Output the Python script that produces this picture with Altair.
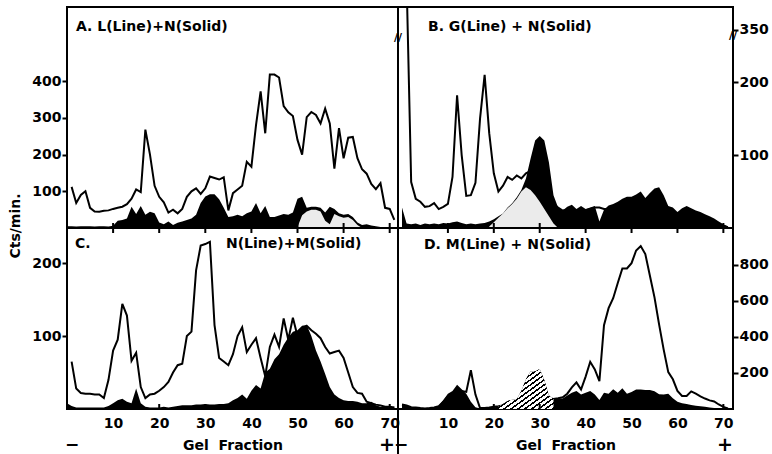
import altair as alt
import pandas as pd

# ---------------- data ----------------
FRACTIONS = list(range(72))           # gel fractions 0..71
TICK_FRACTIONS = [10, 20, 30, 40, 50, 60, 70]

# Panel A: L (line) + N (solid)
A_LINE = [None, 112, 68, 90, 100, 55, 45, 44, 47, 48,
          52, 55, 58, 65, 80, 105, 98, 268, 200, 115,
          85, 70, 42, 50, 40, 52, 85, 100, 108, 93,
          108, 140, 136, 132, 138, 48, 95, 105, 115, 180,
          167, 280, 372, 258, 418, 418, 410, 332, 315, 305,
          240, 200, 302, 316, 308, 285, 325, 285, 162, 272,
          190, 246, 248, 190, 160, 148, 120, 106, 122, 55,
          52, 22]
A_SOLID = [5, 5, 4, 5, 5, 5, 4, 5, 5, 4,
           6, 20, 22, 26, 58, 38, 60, 36, 44, 40,
           15, 10, 18, 8, 14, 18, 22, 26, 36, 68,
           86, 92, 92, 78, 55, 30, 32, 36, 32, 40,
           45, 68, 40, 60, 30, 30, 34, 38, 36, 42,
           80, 85, 55, 58, 58, 55, 42, 58, 52, 40,
           36, 38, 30, 15, 8, 10, 7, 5, 3, 1,
           0, 0]
A_SPECKLE_F = [50, 51, 52, 53, 54, 55, 56, 57, 58, 59, 60, 61, 62, 63, 64]
A_SPECKLE = [3, 35, 45, 50, 50, 45, 20, 10, 38, 32, 28, 30, 22, 8, 0]

# Panel B: G (line) + N (solid)
B_LINE = [None, 340, 63, 40, 36, 29, 30, 34, 26, 29,
          33, 70, 182, 100, 44, 45, 62, 150, 210, 130,
          75, 50, 58, 70, 66, 72, 68, 75, 78, 70,
          60, 50, 40, 33, 28, 24, 25, 26, 24, 26,
          24, 26, 28, 28, 26, 26, 27, 28, 28, 28,
          28, 28, 28, 28, 28, 28, 26, 25, 22, 20,
          18, 20, 20, 18, 16, 14, 12, 10, 8, 5,
          3, 1]
B_SOLID = [28, 6, 5, 6, 4, 6, 5, 6, 5, 7,
           6, 8, 9, 7, 5, 6, 5, 6, 7, 9,
           12, 16, 20, 28, 34, 42, 52, 68, 95, 120,
           126, 120, 90, 45, 28, 24, 29, 32, 26, 30,
           26, 28, 30, 9, 25, 31, 33, 36, 40, 43,
           43, 46, 50, 41, 48, 54, 56, 45, 30, 28,
           22, 27, 30, 27, 24, 22, 19, 16, 13, 9,
           5, 2]
B_SPECKLE_F = [19, 20, 21, 22, 23, 24, 25, 26, 27, 28, 29, 30, 31, 32, 33, 34]
B_SPECKLE = [2, 8, 14, 20, 27, 33, 40, 50, 56, 52, 45, 36, 26, 16, 6, 0]

# Panel C: N (line) + M (solid)
C_LINE = [None, 65, 28, 22, 21, 21, 20, 20, 15, 40,
          80, 95, 144, 128, 66, 77, 30, 15, 20, 21,
          25, 30, 37, 50, 60, 62, 100, 106, 190, 224,
          226, 229, 115, 70, 65, 60, 75, 100, 112, 78,
          88, 97, 70, 45, 85, 102, 85, 124, 95, 125,
          100, 110, 114, 108, 103, 97, 85, 76, 78, 80,
          70, 50, 30, 22, 21, 10, 8, 6, 5, 3,
          3, 2]
C_SOLID = [8, 4, 2, 2, 2, 2, 2, 2, 2, 4,
           8, 12, 14, 10, 8, 28, 8, 3, 2, 2,
           2, 3, 2, 3, 4, 5, 5, 5, 6, 6,
           7, 6, 6, 7, 7, 8, 12, 15, 20, 14,
           25, 33, 28, 50, 55, 68, 75, 88, 98, 106,
           108, 114, 115, 100, 80, 65, 48, 30, 20, 15,
           12, 11, 11, 10, 8, 8, 10, 5, 3, 4,
           2, 3]

# Panel D: M (line) + N (solid)
D_LINE = [25, 20, 10, 8, 5, 3, 5, 8, 15, 40,
          70, 85, 105, 100, 95, 215, 80, 5, 5, 8,
          12, 15, 20, 30, 40, 50, 55, 60, 62, 62,
          62, 60, 58, 56, 60, 65, 85, 120, 148, 108,
          180, 262, 220, 155, 465, 560, 615, 700, 780, 780,
          810, 880, 905, 860, 740, 620, 470, 330, 205, 165,
          100, 72, 72, 98, 85, 70, 58, 48, 42, 25,
          12, 3]
D_SOLID = [25, 20, 10, 8, 5, 3, 4, 8, 18, 50,
           85, 100, 135, 110, 85, 40, 10, 3, 4, 6,
           10, 12, 28, 45, 52, 55, 100, 165, 210, 208,
           222, 160, 75, 58, 58, 58, 75, 90, 100, 80,
           90, 100, 80, 50, 90, 85, 110, 90, 115, 85,
           95, 108, 108, 105, 106, 98, 82, 80, 85, 60,
           40, 32, 28, 22, 18, 15, 12, 8, 5, 3,
           2, 1]
D_HATCH_FROM, D_HATCH_TO = 21, 33

# ---------------- styling helpers ----------------
FONT = "DejaVu Sans"
ONE = pd.DataFrame({"k": [0]})


def hatch(n=16, ink=0.38, paper="white", color="black"):
    stops = []
    for i in range(n):
        a = i / n
        b = (i + 1 - ink) / n
        c = (i + 1) / n
        stops += [alt.GradientStop(color=paper, offset=a),
                  alt.GradientStop(color=paper, offset=b),
                  alt.GradientStop(color=color, offset=b),
                  alt.GradientStop(color=color, offset=c)]
    return alt.LinearGradient(gradient="linear", stops=stops, x1=0, y1=0, x2=1, y2=1)


def text(t, x, y, size=14, align="left", angle=0, baseline="alphabetic"):
    return alt.Chart(ONE).mark_text(
        text=t, font=FONT, fontWeight="bold", fontSize=size, align=align,
        baseline=baseline, angle=angle, color="black"
    ).encode(x=alt.value(x), y=alt.value(y))


def panel(line, solid, w, h, xdom, ydom, yaxis, xaxis, overlays, texts,
          ticks_top, ticks_bottom, extra=()):
    df = pd.DataFrame({"f": FRACTIONS, "line": line, "solid": solid})
    xs = alt.Scale(domain=xdom, nice=False, zero=False)
    ys = alt.Scale(domain=ydom, nice=False, zero=False)
    X = alt.X("f:Q", scale=xs, axis=xaxis)
    layers = [
        alt.Chart(df).mark_line(color="black", strokeWidth=2, clip=True).encode(
            x=X, y=alt.Y("line:Q", scale=ys, axis=yaxis)),
        alt.Chart(df).mark_area(color="black", clip=True, interpolate="linear").encode(
            x=X, y=alt.Y("solid:Q", scale=ys, axis=yaxis)),
    ]
    for odf, fill in overlays:
        layers.append(alt.Chart(odf).mark_area(fill=fill, clip=True).encode(
            x=X, y=alt.Y("solid:Q", scale=ys, axis=yaxis)))
    tdf = pd.DataFrame({"f": TICK_FRACTIONS})
    if ticks_top:
        layers.append(alt.Chart(tdf).mark_rule(color="black", strokeWidth=2).encode(
            x=X, y=alt.value(0), y2=alt.value(5)))
    if ticks_bottom:
        layers.append(alt.Chart(tdf).mark_rule(color="black", strokeWidth=2).encode(
            x=X, y=alt.value(h - 5), y2=alt.value(h)))
    layers += list(texts) + list(extra)
    return alt.layer(*layers).properties(width=w, height=h)


def yaxis(values, orient, label_expr=None):
    kw = dict(values=values, orient=orient, title=None, tickSize=5, tickWidth=2,
              labelPadding=1, domain=False, grid=False, labelFontSize=14)
    if label_expr:
        kw["labelExpr"] = label_expr
    return alt.Axis(**kw)


XAXIS = alt.Axis(values=TICK_FRACTIONS, tickSize=0, labelPadding=7, labelFontSize=14,
                 title="Gel\u00a0 Fraction", titlePadding=8, domain=False, grid=False,
                 format="d")

WL, WR, HT, HB = 331, 335, 221, 181
XDOM_L = [0, 71.8]
XDOM_R = [-0.87, 72.1]

a_speck = pd.DataFrame({"f": A_SPECKLE_F, "solid": A_SPECKLE})
b_speck = pd.DataFrame({"f": B_SPECKLE_F, "solid": B_SPECKLE})
d_hatch = pd.DataFrame({"f": FRACTIONS[D_HATCH_FROM:D_HATCH_TO + 1],
                        "solid": D_SOLID[D_HATCH_FROM:D_HATCH_TO + 1]})

pA = panel(A_LINE, A_SOLID, WL, HT, XDOM_L, [0, 602],
           yaxis([100, 200, 300, 400], "left"), None,
           [(a_speck, "#ebebeb")],
           [text("A.  L(Line)+N(Solid)", 9, 24),
            text("Cts/min.", -51, 219, size=14, align="center", angle=270,
                 baseline="middle")],
           False, True)

pB = panel(B_LINE, B_SOLID, WR, HT, XDOM_R, [0, 303],
           yaxis([100, 200, 272], "right",
                 "datum.value == 272 ? '350' : datum.label"), None,
           [(b_speck, "#ebebeb")],
           [text("B.  G(Line) + N(Solid)", 30, 24),
            text("//", 0, 31, size=11, align="center", baseline="middle"),
            text("//", WR, 29, size=11, align="center", baseline="middle")],
           False, True)

pC = panel(C_LINE, C_SOLID, WL, HB, XDOM_L, [0, 248],
           yaxis([100, 200], "left"), XAXIS, [],
           [text("C.", 8, 20),
            text("N(Line)+M(Solid)", 159, 20),
            text("\u2212", 5, 217, size=17, align="center", baseline="middle"),
            text("+", 320, 217, size=19, align="center", baseline="middle")],
           True, True)

pD = panel(D_LINE, D_SOLID, WR, HB, XDOM_R, [0, 1005],
           yaxis([200, 400, 600, 800], "right"), XAXIS,
           [(d_hatch, hatch())],
           [text("D.  M(Line) + N(Solid)", 26, 21),
            text("\u2212", 3, 217, size=17, align="center", baseline="middle"),
            text("+", 327, 217, size=19, align="center", baseline="middle")],
           True, True,
           extra=[alt.Chart(ONE).mark_rule(color="black", strokeWidth=2).encode(
               x=alt.value(0), y=alt.value(HB), y2=alt.value(HB + 45))])

chart = alt.concat(pA, pB, pC, pD, columns=2, spacing=0, bounds="flush",
                   align="each").properties(
    padding={"left": 8, "top": 6, "right": 0, "bottom": 0},
    background="white",
).configure_view(stroke="black", strokeWidth=2).configure_axis(
    labelFont=FONT, labelFontWeight="bold", labelColor="black", tickColor="black",
    titleFont=FONT, titleFontWeight="bold", titleFontSize=14, titleColor="black",
)

chart.save("out.html", embed_options={"renderer": "svg", "actions": False})
